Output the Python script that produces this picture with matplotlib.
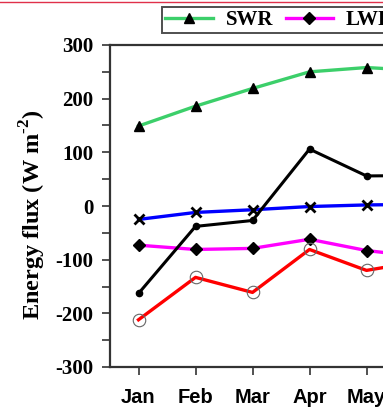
import matplotlib
matplotlib.use('Agg')
import matplotlib.pyplot as plt
from matplotlib.lines import Line2D

# monthly energy flux terms (W m-2) (Jun only partly visible)
months = ['Jan', 'Feb', 'Mar', 'Apr', 'May', 'Jun']
swr = [149, 186, 219, 250, 258, 252]
net = [-163, -38, -27, 106, 56, 57]
sens = [-25, -12, -7, -1, 2, 3]
lwr = [-73, -81, -79, -62, -83, -95]
lat = [-212, -133, -161, -81, -120, -102]

plt.rcParams['mathtext.fontset'] = 'custom'
plt.rcParams['mathtext.rm'] = 'Liberation Serif:bold'
plt.rcParams['mathtext.bf'] = 'Liberation Serif:bold'

W, H = 383, 409
fig = plt.figure(figsize=(W / 100, H / 100), dpi=100)

# axes runs on past the right edge, the picture is a crop of a 12-month panel
ax = fig.add_axes([110 / W, 42 / H, 684 / W, 322 / H])
x = list(range(1, len(months) + 1))

ax.plot(x, swr, color='#3ccf6a', lw=2.4, marker='^', ms=7.5,
        mfc='black', mec='black', label='SWR', zorder=3)
ax.plot(x, lwr, color='#ff00ff', lw=2.4, marker='D', ms=6,
        mfc='black', mec='black', label='LWR', zorder=3)
ax.plot(x, sens, color='#0000ff', lw=2.4, marker='x', ms=7.5,
        mec='black', mew=2, zorder=3)
ax.plot(x, net, color='black', lw=2.2, marker='o', ms=4.5, zorder=3)
ax.plot(x, lat, color='#ff0000', lw=2.4, marker='o', ms=9,
        mfc='none', mec='#666666', mew=0.8, zorder=4)

ax.set_xlim(0.5, 12.5)
ax.set_ylim(-300, 300)
ax.set_yticks(range(-300, 301, 100))
ax.set_yticks(range(-250, 300, 100), minor=True)
ax.set_xticks(x)
ax.set_xticklabels(months, fontfamily='Liberation Sans', fontweight='bold',
                   fontsize=14.5)
ax.set_yticklabels([str(v) for v in range(-300, 301, 100)],
                   fontfamily='Liberation Serif', fontweight='bold', fontsize=15)
ax.tick_params(axis='y', which='both', direction='out', length=6,
               width=1.2, color='#333333', pad=6)
ax.tick_params(axis='x', direction='out', length=6, width=1.2,
               color='#333333', pad=9)
for s in ax.spines.values():
    s.set_linewidth(1.6)
    s.set_color('#333333')

fig.text(33 / W, 1 - 215 / H, 'Energy flux (W m$^{\\text{-}2}$)',
         rotation=90, ha='center', va='center', fontsize=17.5,
         fontfamily='Liberation Serif', fontweight='bold')

leg = fig.legend(loc='upper left', bbox_to_anchor=(162 / W, 1 - 7 / H),
                 borderaxespad=0, ncol=2, frameon=True, fancybox=False,
                 handlelength=2.3, columnspacing=0.6, handletextpad=0.6,
                 borderpad=0.15,
                 prop={'family': 'Liberation Serif', 'weight': 'bold',
                       'size': 15})
leg.get_frame().set_edgecolor('#222222')
leg.get_frame().set_linewidth(1.4)

# thin red rule across the very top of the crop
fig.add_artist(Line2D([0, 1], [1 - 2 / H, 1 - 2 / H], color='#e0304a',
                      lw=1, transform=fig.transFigure))

fig.savefig('out.png', dpi=100)
